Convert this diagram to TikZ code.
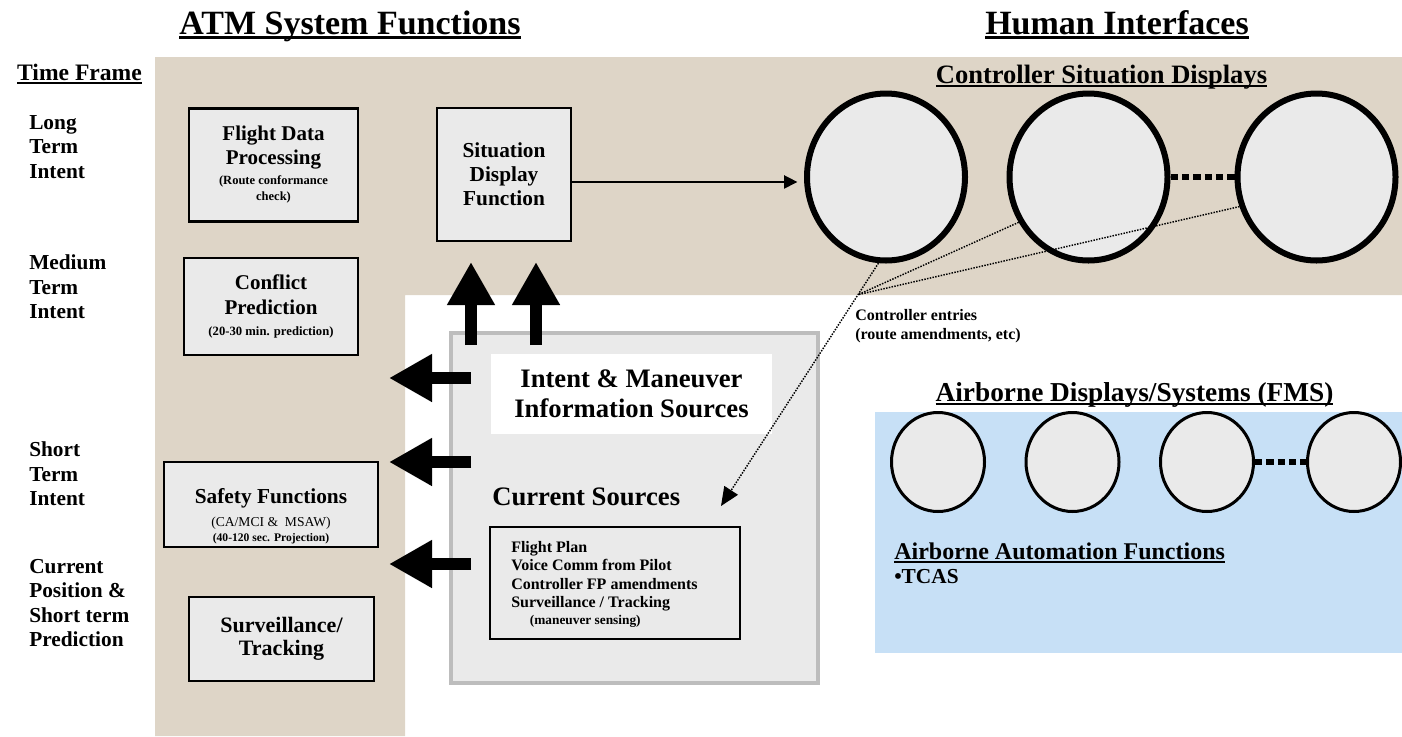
\documentclass[tikz,border=0pt]{standalone}
\usepackage{fontspec}
\setmainfont{Liberation Serif}
\usetikzlibrary{shapes.geometric,arrows.meta,positioning,calc}
\definecolor{sand}{RGB}{222,213,199}
\definecolor{sky}{RGB}{199,224,246}
\definecolor{boxgray}{RGB}{234,234,234}
\definecolor{rimgray}{RGB}{189,189,189}
\newdimen\pxu \pxu=0.75pt
\newcommand{\fs}[2]{\fontsize{#1}{#2}\selectfont}
\newcommand{\hdul}[2][1.6pt]{\leavevmode\vtop{\hbox{\raisebox{0pt}[\height][0pt]{#2}}\kern1.6pt\hrule height #1}}

\begin{document}
\begin{tikzpicture}[x=0.75pt, y=-0.75pt,
    fn/.style={rectangle, draw, line width=2pt, fill=boxgray, inner sep=0pt, align=center, font=\bfseries\fs{16}{18}},
    tf/.style={anchor=west, align=left, inner sep=0pt, font=\bfseries\fs{16}{18.4}},
    hd/.style={anchor=base, inner sep=0pt, font=\bfseries},
    disp/.style={ellipse, draw, line width=4.5pt, fill=boxgray, inner sep=0pt, minimum width=158*\pxu, minimum height=167*\pxu},
    fms/.style={ellipse, draw, line width=2.25pt, fill=boxgray, inner sep=0pt, minimum width=93*\pxu, minimum height=99*\pxu},
    blk/.style={line width=9pt, -{Triangle[width=33.75pt,length=32.25pt]}},
    ev/.style={line width=1.1pt, -{Triangle[width=10pt,length=10pt]}},
    ent/.style={line width=1.1pt, densely dotted},
    gap/.style={line width=5pt, dash pattern=on 5.5pt off 3pt}
]
% backgrounds
\useasboundingbox (0,0) rectangle (1402,736);
\fill[sand] (155,57) -- (1402,57) -- (1402,295) -- (405,295) -- (405,736) -- (155,736) -- cycle;
\fill[sky] (875,412) rectangle (1402,653);

% headings
\node[hd, font=\bfseries\fs{25.5}{30}] (atm) at (350,34) {\hdul[1.9pt]{ATM System Functions}};
\node[hd, font=\bfseries\fs{25.5}{30}] (hum) at (1117,34) {\hdul[1.9pt]{Human Interfaces}};
\node[hd, font=\bfseries\fs{17.7}{20}] (tfr) at (79.5,80) {\hdul[1.5pt]{Time Frame}};
\node[hd, font=\bfseries\fs{19.9}{23}] (csd) at (1101.5,83) {\hdul{Controller Situation Displays}};
\node[hd, font=\bfseries\fs{20.5}{24}] (ads) at (1134.5,401) {\hdul{Airborne Displays/Systems (FMS)}};

% time frames
\node[tf] (lt) at (29,147) {Long\\Term\\Intent};
\node[tf] (mt) at (29,287) {Medium\\Term\\Intent};
\node[tf] (sh) at (29,474) {Short\\Term\\Intent};
\node[tf] (cp) at (29,603) {Current\\Position \&\\Short term\\Prediction};

% ATM functions
\node[fn, font=\bfseries\fs{15.75}{18}, minimum width=169*\pxu, minimum height=113*\pxu] (fdp) at (273.5,165)
    {Flight Data\\Processing\\[-3pt]\fs{9.4}{11}(Route conformance\\[-6pt]\fs{9.4}{11}check)};
\node[fn, font=\bfseries\fs{15.75}{18.75}, minimum width=174*\pxu, minimum height=97*\pxu] (cfp) at (271,306.5)
    {Conflict\\Prediction\\[-3.5pt]\fs{9.5}{11}(20-30 min. prediction)};
\node[fn, minimum width=214*\pxu, minimum height=85*\pxu] (saf) at (271,504.5) {};
\node[inner sep=0pt, align=center, font=\bfseries\fs{16}{18}] (saft) at (271,516)
    {Safety Functions\\[-0.75pt]\mdseries\fs{10.2}{12}(CA/MCI \&\ \ MSAW)\\[-6.75pt]\bfseries\fs{8.7}{11}(40-120 sec. Projection)};
\node[fn, font=\bfseries\fs{16.5}{17.25}, minimum width=185*\pxu, minimum height=84*\pxu] (srv) at (281.5,639)
    {Surveillance/\\Tracking};
\node[fn, minimum width=134*\pxu, minimum height=133*\pxu] (sdf) at (504,174.5)
    {Situation\\Display\\Function};

% information sources
\node[draw=rimgray, line width=3pt, fill=boxgray, minimum width=367*\pxu, minimum height=350*\pxu] (cur) at (634.5,508) {};
\node[fill=white, inner sep=0pt, minimum width=281*\pxu, minimum height=80*\pxu, align=center, font=\bfseries\fs{20}{22.5}] (ims) at (631.5,394)
    {Intent \& Maneuver\\Information Sources};
\node[anchor=west, inner sep=0pt, font=\bfseries\fs{20}{24}] (cst) at (492,497) {Current Sources};
\node[draw, line width=1.5pt, fill=boxgray, minimum width=250*\pxu, minimum height=112*\pxu] (lst) at (615,583) {};
\node[anchor=north west, align=left, inner sep=0pt, font=\bfseries\fs{12}{13.9}] (lstt) at (511,541)
    {Flight Plan\\Voice Comm from Pilot\\Controller FP amendments\\Surveillance / Tracking\\[-1.5pt]\fs{10}{12}\hspace{14pt}(maneuver sensing)};

% block arrows
\coordinate (u1a) at (471,345); \coordinate (u1b) at (471,262);
\coordinate (u2a) at (536,345); \coordinate (u2b) at (536,262);
\draw[blk] (u1a) -- (u1b);
\draw[blk] (u2a) -- (u2b);
\foreach \yy/\nm in {378/l1,462/l2,564/l3}{
  \coordinate (\nm a) at (471,\yy); \coordinate (\nm b) at (389,\yy);
  \draw[blk] (\nm a) -- (\nm b);
}

% controller displays
\node[disp] (e1) at (886,177) {};
\node[disp] (e2) at (1088.5,177) {};
\node[disp] (e3) at (1316.5,177) {};
\draw[gap] (e2.east) -- (e3.west);
\draw[ev, shorten >=5pt] ([yshift=-5.6pt]sdf.east) -- ([yshift=-5.6pt]sdf.east -| e1.west);

% controller entries
\coordinate (tip) at (721,506);
\coordinate (cj) at ($(e1.265)!0.13!(tip)$);
\draw[ent, -{Triangle[width=12pt,length=14pt]}] (e1.265) -- (tip);
\draw[ent] (e2.213) -- (cj);
\draw[ent] (e3.201) -- (cj);
\node[anchor=north west, align=left, inner sep=0pt, font=\bfseries\fs{12}{14.25}] (cen) at (855,309)
    {Controller entries\\(route amendments, etc)};

% airborne
\node[fms] (a1) at (938,462) {};
\node[fms] (a2) at (1072.5,462) {};
\node[fms] (a3) at (1207,462) {};
\node[fms] (a4) at (1354,462) {};
\draw[gap] (a3.east) -- (a4.west);
\node[anchor=base west, inner sep=0pt, font=\bfseries\fs{18}{20}] (aaf) at (894,559) {\hdul{Airborne Automation Functions}};
\node[anchor=base west, inner sep=0pt, font=\bfseries\fs{16}{18}] (tcas) at (894,583) {\textbullet TCAS};
\end{tikzpicture}
\end{document}
